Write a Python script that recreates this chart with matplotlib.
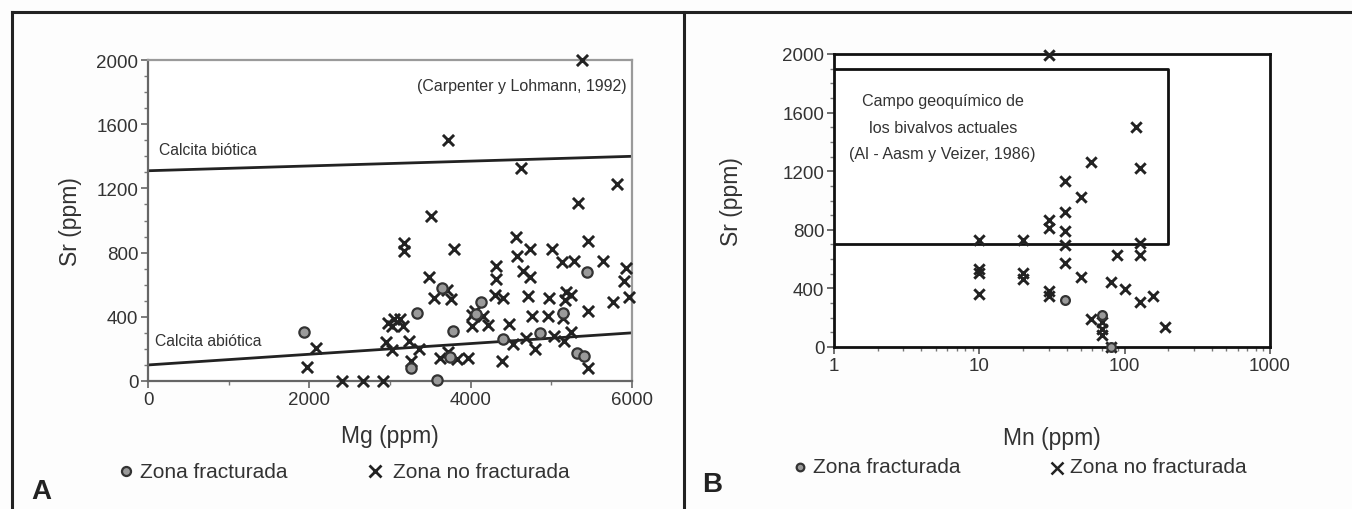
import numpy as np
import matplotlib.pyplot as plt
from matplotlib.lines import Line2D
from matplotlib.ticker import MultipleLocator, FixedLocator, NullFormatter

plt.rcParams['font.family'] = ['Liberation Sans Narrow', 'Liberation Sans', 'DejaVu Sans']
TXT = '#333333'

# --- Panel A: Mg vs Sr ---
mg_frac = [1940, 3340, 3645, 3775, 4125, 4065, 3256, 3586, 3745, 4397, 4864, 5141, 5446, 5314, 5405]
sr_frac = [305, 421, 577, 313, 490, 416, 82, 4, 147, 259, 301, 425, 678, 175, 156]

mg_nofrac = [5380, 3720, 4620, 5820, 5330, 3510, 4560, 5455, 3170, 3170, 3790, 4736, 5004,
             4578, 5128, 5281, 5636, 5926, 5901, 4314, 4314, 4652, 4736, 3487, 3710, 3545,
             3752, 4298, 4405, 4715, 4975, 5182, 5240, 5169, 5768, 5967, 5458, 4013, 4050,
             4157, 4219, 4013, 4757, 4962, 5141, 4480, 2980, 3050, 3124, 3165, 3030, 4385,
             3240, 3025, 3363, 3256, 3620, 3723, 3827, 3971, 4530, 4686, 4797, 5033, 5157,
             5240, 5458, 2083, 1965, 2405, 2662, 2915, 2950]
sr_nofrac = [2000, 1500, 1325, 1225, 1110, 1030, 900, 875, 860, 810, 820, 820, 820,
             778, 740, 750, 747, 703, 626, 716, 633, 688, 647, 647, 570, 517,
             508, 533, 517, 529, 517, 554, 533, 502, 492, 523, 436, 413, 434,
             408, 350, 342, 405, 405, 392, 357, 362, 386, 388, 342, 344, 122,
             247, 194, 197, 122, 143, 180, 134, 143, 228, 268, 197, 280, 247,
             305, 81, 205, 87, 0, 0, 0, 245]

biotic_mg = [0, 6000]
biotic_sr = [1310, 1400]
abiotic_mg = [0, 6000]
abiotic_sr = [100, 300]

# --- Panel B: Mn vs Sr ---
mn_frac = [39, 70, 80]
srb_frac = [318, 216, 0]

mn_nofrac = [30, 120, 59, 128, 39, 50, 39, 30, 30, 39, 10, 20, 39, 128, 89, 128, 39,
             10, 10, 20, 20, 50, 30, 30, 10, 80, 100, 128, 156, 59, 70, 70, 70, 188, 80]
srb_nofrac = [1990, 1500, 1265, 1220, 1132, 1027, 920, 870, 813, 790, 733, 733, 693, 711,
              625, 625, 570, 530, 507, 507, 466, 480, 383, 351, 360, 443, 397, 307, 345,
              193, 170, 125, 84, 136, 0]

box_mn = [1, 200]
box_sr = [700, 1900]

fig = plt.figure(figsize=(13.52, 5.1), dpi=100)
fig.patch.set_facecolor('#fdfdfd')

# frame lines of the figure
W, H = 1352, 510
for x0, y0, x1, y1 in [(12, 13, W, 13), (12, 13, 12, H), (684, 13, 684, H)]:
    fig.add_artist(Line2D([x0 / W, x1 / W], [1 - y0 / H, 1 - y1 / H],
                          color='#222222', lw=2.2, transform=fig.transFigure))

# ---------------- A ----------------
axA = fig.add_axes([148 / W, 1 - 382 / H, 484 / W, 321 / H])
axA.set_facecolor('white')
axA.plot(biotic_mg, biotic_sr, color='#222222', lw=2.0)
axA.plot(abiotic_mg, abiotic_sr, color='#222222', lw=2.0)
axA.scatter(mg_nofrac, sr_nofrac, marker='x', s=64, color='#222222', linewidths=2.1,
            clip_on=False, zorder=3)
axA.scatter(mg_frac, sr_frac, marker='o', s=55, facecolor='#9a9a9a', edgecolor='#333333',
            linewidths=1.6, clip_on=False, zorder=4)
axA.set_xlim(0, 6000)
axA.set_ylim(0, 2000)
axA.xaxis.set_major_locator(MultipleLocator(2000))
axA.xaxis.set_minor_locator(MultipleLocator(1000))
axA.yaxis.set_major_locator(MultipleLocator(400))
axA.yaxis.set_minor_locator(MultipleLocator(100))
axA.tick_params(which='major', length=5, width=1.2, color='#666666', labelsize=13.5,
                labelcolor=TXT, pad=2)
axA.tick_params(which='minor', length=3, width=1.0, color='#777777')
for s in ['left', 'bottom']:
    axA.spines[s].set_color('#666666')
    axA.spines[s].set_linewidth(1.6)
for s in ['top', 'right']:
    axA.spines[s].set_color('#9a9a9a')
    axA.spines[s].set_linewidth(1.6)
axA.set_xlabel('Mg (ppm)', fontsize=16.5, color=TXT, labelpad=12)
axA.set_ylabel('Sr (ppm)', fontsize=16.5, color=TXT, labelpad=10)
axA.text(5930, 1840, '(Carpenter y Lohmann, 1992)', ha='right', va='center',
         fontsize=11.5, color=TXT)
axA.text(140, 1445, 'Calcita biótica', ha='left', va='center', fontsize=11.3, color=TXT)
axA.text(85, 250, 'Calcita abiótica', ha='left', va='center', fontsize=11.3, color=TXT)

# legend A
fig.add_artist(Line2D([126 / W], [1 - 472 / H], marker='o', markersize=6.5,
                      markerfacecolor='#9a9a9a', markeredgecolor='#333333',
                      markeredgewidth=1.6, transform=fig.transFigure))
fig.text(140 / W, 1 - 472 / H, 'Zona fracturada', ha='left', va='center', fontsize=15, color=TXT)
fig.add_artist(Line2D([375 / W], [1 - 472 / H], marker='x', markersize=8.5,
                      color='#222222', markeredgewidth=2.0, transform=fig.transFigure))
fig.text(393 / W, 1 - 472 / H, 'Zona no fracturada', ha='left', va='center', fontsize=15, color=TXT)
fig.text(41 / W, 1 - 492 / H, 'A', ha='center', va='center', fontsize=20, color='#222222',
         fontweight='bold')

# ---------------- B ----------------
axB = fig.add_axes([834 / W, 1 - 348 / H, 436 / W, 293 / H])
axB.set_facecolor('white')
axB.plot([box_mn[0], box_mn[1], box_mn[1], box_mn[0]],
         [box_sr[1], box_sr[1], box_sr[0], box_sr[0]], color='#111111', lw=2.0)
axB.scatter(mn_nofrac, srb_nofrac, marker='x', s=56, color='#222222', linewidths=2.1,
            clip_on=False, zorder=3)
axB.scatter(mn_frac, srb_frac, marker='o', s=40, facecolor='#9a9a9a', edgecolor='#333333',
            linewidths=1.6, clip_on=False, zorder=4)
axB.set_xscale('log')
axB.set_xlim(1, 1000)
axB.set_ylim(0, 2000)
axB.xaxis.set_major_locator(FixedLocator([1, 10, 100, 1000]))
axB.set_xticklabels(['1', '10', '100', '1000'])
axB.xaxis.set_minor_locator(FixedLocator([m * d for d in [1, 10, 100] for m in range(2, 10)]))
axB.xaxis.set_minor_formatter(NullFormatter())
axB.yaxis.set_major_locator(MultipleLocator(400))
axB.yaxis.set_minor_locator(MultipleLocator(100))
axB.tick_params(which='major', length=5, width=1.2, color='#555555', labelsize=13.5,
                labelcolor=TXT, pad=2)
axB.tick_params(which='minor', length=3, width=1.0, color='#777777')
for s in axB.spines.values():
    s.set_color('#111111')
    s.set_linewidth(2.0)
axB.set_xlabel('Mn (ppm)', fontsize=16.5, color=TXT, labelpad=38)
axB.set_ylabel('Sr (ppm)', fontsize=16.5, color=TXT, labelpad=28)
for txt, yv in [('Campo geoquímico de', 1680), ('los bivalvos actuales', 1500),
                ('(Al - Aasm y Veizer, 1986)', 1320)]:
    axB.text(5.6, yv, txt, ha='center', va='center', fontsize=11.6, color=TXT)

fig.add_artist(Line2D([800 / W], [1 - 468 / H], marker='o', markersize=5.5,
                      markerfacecolor='#9a9a9a', markeredgecolor='#333333',
                      markeredgewidth=1.6, transform=fig.transFigure))
fig.text(813 / W, 1 - 468 / H, 'Zona fracturada', ha='left', va='center', fontsize=15, color=TXT)
fig.add_artist(Line2D([1057 / W], [1 - 469 / H], marker='x', markersize=8,
                      color='#222222', markeredgewidth=1.8, transform=fig.transFigure))
fig.text(1070 / W, 1 - 468 / H, 'Zona no fracturada', ha='left', va='center', fontsize=15, color=TXT)
fig.text(712 / W, 1 - 485 / H, 'B', ha='center', va='center', fontsize=20, color='#222222',
         fontweight='bold')

fig.savefig('out.png', dpi=100, facecolor=fig.get_facecolor())
